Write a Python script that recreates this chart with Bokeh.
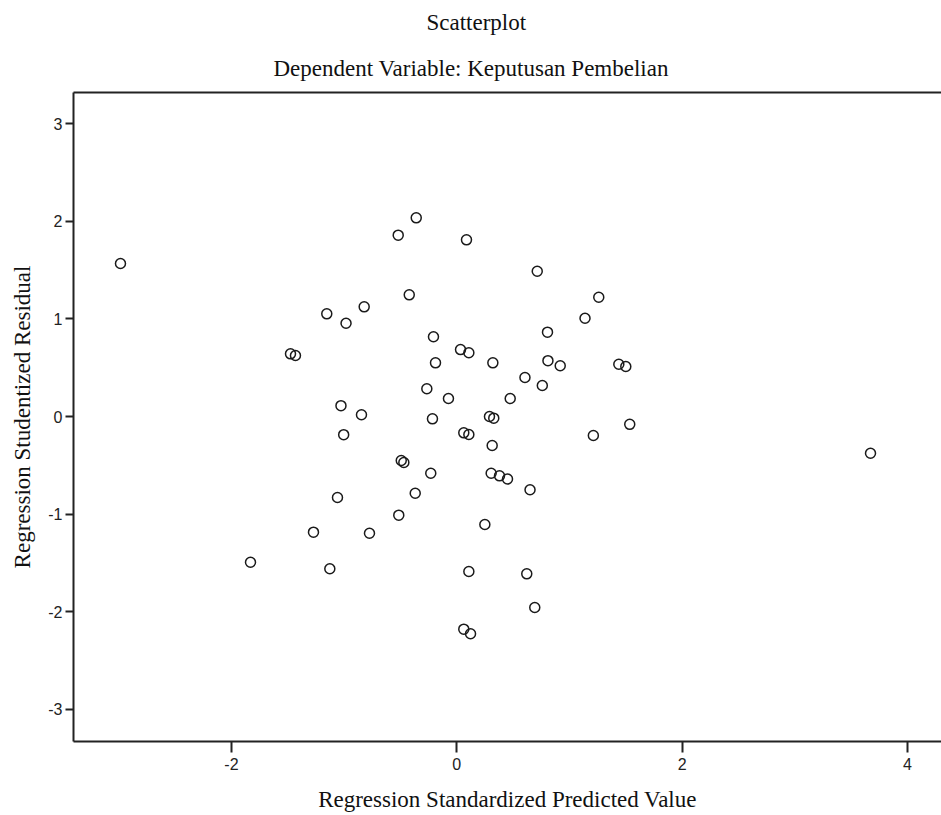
from bokeh.plotting import figure
from bokeh.models import Range1d, LinearAxis, FixedTicker, Title, PrintfTickFormatter
from bokeh.embed import file_html
from bokeh.resources import INLINE

# ---- texts ----
title_text = "Scatterplot"
subtitle_text = "Dependent Variable: Keputusan Pembelian"
x_label = "Regression Standardized Predicted Value"
y_label = "Regression Studentized Residual"
x_ticks = [-2, 0, 2, 4]
y_ticks = [-3, -2, -1, 0, 1, 2, 3]

# ---- data ----
pred = [-2.985, -1.831, -1.476, -1.432, -1.154, -0.983, -0.822, -1.028, -1.004, -0.846,
        -1.059, -1.272, -1.127, -0.775, -0.520, -0.360, -0.422, -0.207, -0.189, -0.266,
        -0.074, -0.216, -0.493, -0.470, -0.231, -0.369, -0.515, 0.086, 0.033, 0.107,
        0.320, 0.062, 0.107, 0.290, 0.328, 0.314, 0.305, 0.379, 0.450, 0.249,
        0.107, 0.062, 0.122, 0.474, 0.605, 0.714, 0.805, 0.809, 0.759, 0.918,
        0.650, 0.621, 0.692, 1.138, 1.260, 1.212, 1.438, 1.500, 1.535, 3.672]
resid = [1.568, -1.493, 0.642, 0.625, 1.052, 0.956, 1.124, 0.111, -0.186, 0.018,
         -0.830, -1.185, -1.560, -1.196, 1.858, 2.036, 1.247, 0.817, 0.550, 0.284,
         0.184, -0.024, -0.451, -0.471, -0.581, -0.786, -1.011, 1.810, 0.686, 0.653,
         0.550, -0.167, -0.184, 0.000, -0.017, -0.297, -0.581, -0.608, -0.640, -1.107,
         -1.588, -2.179, -2.226, 0.184, 0.400, 1.489, 0.864, 0.572, 0.318, 0.520,
         -0.751, -1.612, -1.957, 1.007, 1.222, -0.195, 0.536, 0.512, -0.080, -0.376]

W, H = 941, 815
p = figure(width=W, height=H, output_backend="svg", toolbar_location=None,
           x_range=Range1d(-3.402, 4.302), y_range=Range1d(-3.330, 3.320),
           min_border_left=73, min_border_right=0, min_border_top=92, min_border_bottom=74)
p.background_fill_color = "white"
p.border_fill_color = "white"
p.outline_line_color = None
p.grid.visible = False

AX = "#222222"
for ax in (p.xaxis[0], p.yaxis[0]):
    ax.axis_line_color = AX
    ax.axis_line_width = 2
    ax.major_tick_line_color = AX
    ax.major_tick_line_width = 2
    ax.minor_tick_line_color = None
    ax.major_tick_in = 0
    ax.major_label_text_font = "Liberation Sans"
    ax.major_label_text_font_size = "16px"
    ax.major_label_text_color = "#222222"
    ax.formatter = PrintfTickFormatter(format="%d")
    ax.axis_label_text_font = "Liberation Serif"
    ax.axis_label_text_font_size = "23px"
    ax.axis_label_text_font_style = "normal"
    ax.axis_label_text_color = "#111111"

p.xaxis[0].ticker = FixedTicker(ticks=x_ticks)
p.yaxis[0].ticker = FixedTicker(ticks=y_ticks)
p.xaxis[0].major_tick_out = 11
p.yaxis[0].major_tick_out = 8
p.xaxis[0].major_label_standoff = 5
p.yaxis[0].major_label_standoff = 3

p.xaxis[0].axis_label = x_label
p.xaxis[0].axis_label_standoff = 14
p.yaxis[0].axis_label = y_label
p.yaxis[0].axis_label_standoff = 10

# top border of the frame
top = LinearAxis(ticker=FixedTicker(ticks=[]), axis_line_color=AX, axis_line_width=2,
                 major_tick_line_color=None, minor_tick_line_color=None,
                 major_label_text_font_size="0px")
p.add_layout(top, "above")

# titles (added nearest-first)
p.add_layout(Title(text=subtitle_text, align="left", offset=200, standoff=24,
                   text_font="Liberation Serif", text_font_size="23px",
                   text_font_style="normal", text_color="#111111"), "above")
p.add_layout(Title(text=title_text, align="left", offset=353, standoff=13,
                   text_font="Liberation Serif", text_font_size="23px",
                   text_font_style="normal", text_color="#111111"), "above")

p.scatter(pred, resid, marker="circle", size=10, fill_color=None,
          line_color="#1a1a1a", line_width=1.5)

open("out.html", "w").write(file_html(p, INLINE))
